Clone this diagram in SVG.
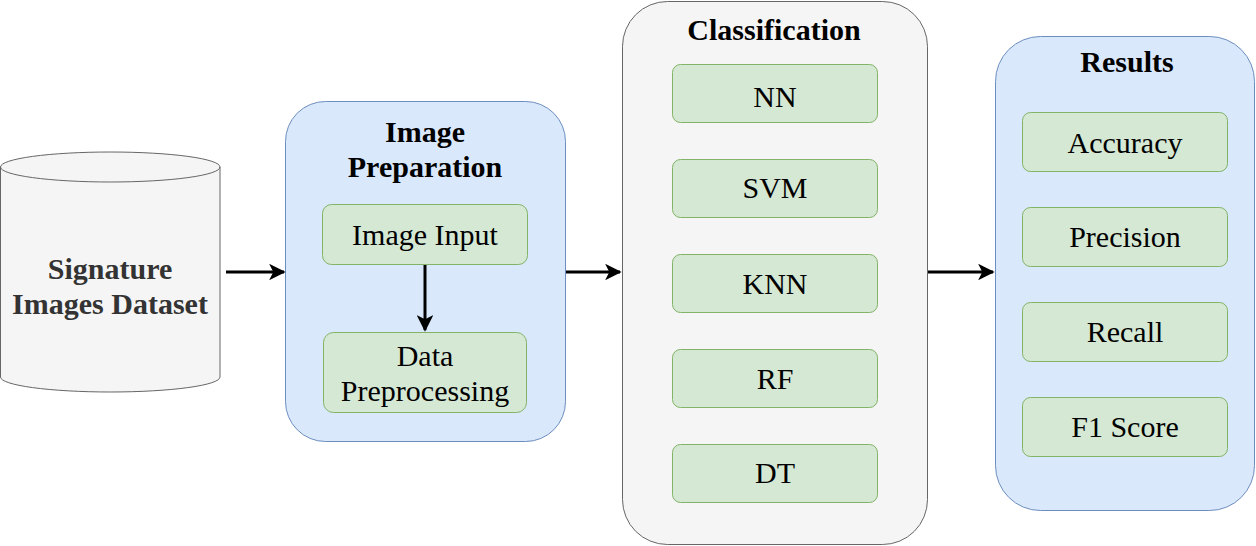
<svg xmlns="http://www.w3.org/2000/svg" width="1256" height="546" viewBox="0 0 1256 546">
<defs>
<marker id="ah" viewBox="0 0 10 10" refX="9" refY="5" markerWidth="5.5" markerHeight="5.5" orient="auto" markerUnits="strokeWidth">
<path d="M0,0 L10,5 L0,10 L2.5,5 Z" fill="#000"/>
</marker>
<style>
.t{font-family:"Liberation Serif","Times New Roman",serif;text-anchor:middle;}
.b{font-weight:bold;font-size:30px;fill:#000;}
.r{font-size:30px;fill:#000;}
.blue{fill:#dae8fc;stroke:#6c8ebf;stroke-width:1;}
.grey{fill:#f5f5f5;stroke:#666;stroke-width:1;}
.green{fill:#d5e8d4;stroke:#82b366;stroke-width:1;}
.c{fill:none;stroke:#000;stroke-width:3;marker-end:url(#ah);}
</style>
</defs>
<rect width="1256" height="546" fill="#fff"/>
<g id="dataset">
<path class="grey" d="M0.5,167 A109.75,15 0 0 1 220,167 L220,377 A109.75,15 0 0 1 0.5,377 Z"/>
<path d="M0.5,167 A109.75,15 0 0 0 220,167" fill="none" stroke="#666"/>
<text class="t b" style="fill:#333" x="110" y="279">Signature</text>
<text class="t b" style="fill:#333" x="110" y="314">Images Dataset</text>
</g>
<g id="imageprep">
<rect class="blue" x="285.5" y="101.5" width="280" height="340" rx="40"/>
<text class="t b" x="425" y="142">Image</text>
<text class="t b" x="425" y="177">Preparation</text>
</g>
<g id="imageinput">
<rect class="green" x="322.5" y="204.5" width="205" height="60" rx="9"/>
<text class="t r" x="425" y="245">Image Input</text>
</g>
<g id="preproc">
<rect class="green" x="323.5" y="332.5" width="203" height="80" rx="10"/>
<text class="t r" x="425" y="366">Data</text>
<text class="t r" x="425" y="401">Preprocessing</text>
</g>
<g id="classification">
<rect class="grey" x="622.5" y="1.5" width="305" height="543" rx="45"/>
<text class="t b" x="774" y="40">Classification</text>
</g>
<g id="nn"><rect class="green" x="672.5" y="64.5" width="205" height="58" rx="8"/><text class="t r" x="775" y="107">NN</text></g>
<g id="svm"><rect class="green" x="672.5" y="159.5" width="205" height="58" rx="8"/><text class="t r" x="775" y="198">SVM</text></g>
<g id="knn"><rect class="green" x="672.5" y="254.5" width="205" height="58" rx="8"/><text class="t r" x="775" y="294">KNN</text></g>
<g id="rf"><rect class="green" x="672.5" y="349.5" width="205" height="58" rx="8"/><text class="t r" x="775" y="389">RF</text></g>
<g id="dt"><rect class="green" x="672.5" y="444.5" width="205" height="58" rx="8"/><text class="t r" x="775" y="483">DT</text></g>
<g id="results">
<rect class="blue" x="995.5" y="36.5" width="259" height="474" rx="45"/>
<text class="t b" x="1127" y="72">Results</text>
</g>
<g id="accuracy"><rect class="green" x="1022.5" y="112.5" width="205" height="59" rx="8"/><text class="t r" x="1125" y="153">Accuracy</text></g>
<g id="precision"><rect class="green" x="1022.5" y="207.5" width="205" height="59" rx="8"/><text class="t r" x="1125" y="247">Precision</text></g>
<g id="recall"><rect class="green" x="1022.5" y="302.5" width="205" height="59" rx="8"/><text class="t r" x="1125" y="342">Recall</text></g>
<g id="f1"><rect class="green" x="1022.5" y="397.5" width="205" height="59" rx="8"/><text class="t r" x="1125" y="437">F1 Score</text></g>
<g id="connectors">
<path class="c" d="M226,272 L284,272"/>
<path class="c" d="M425,265 L425,330"/>
<path class="c" d="M566,272 L620,272"/>
<path class="c" d="M928,272 L993,272"/>
</g>
</svg>
